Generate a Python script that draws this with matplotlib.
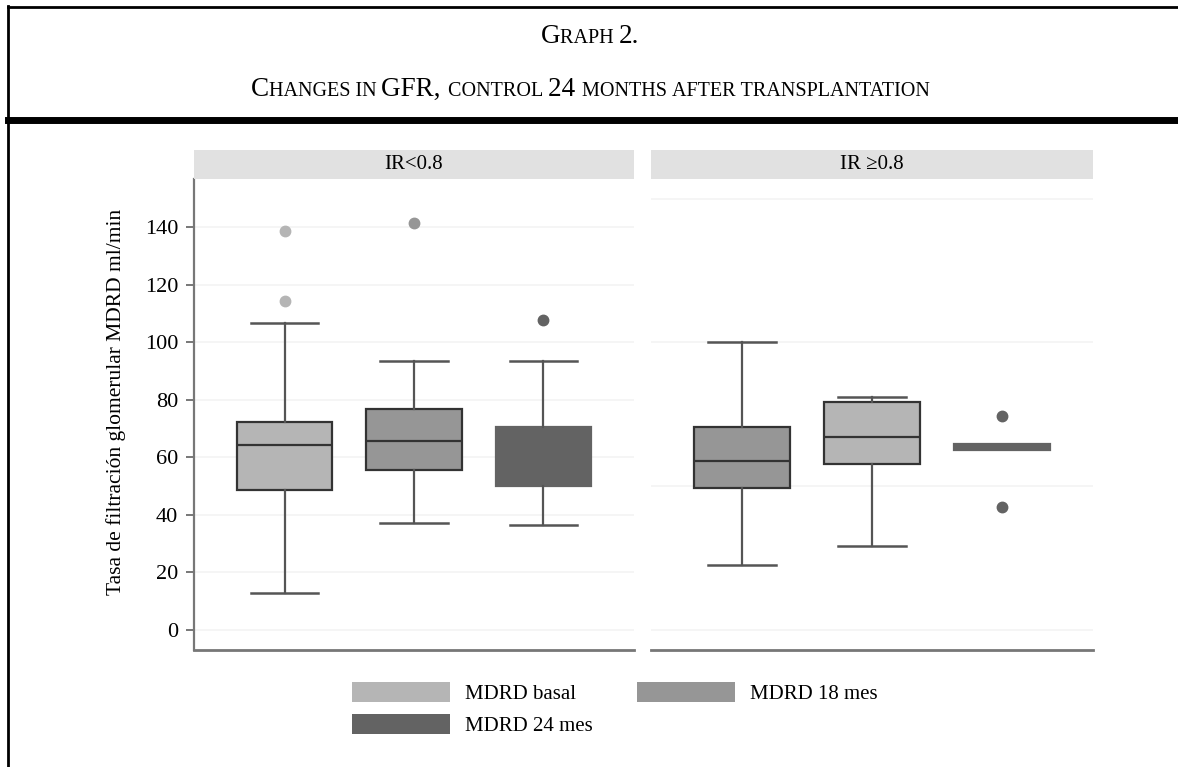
import numpy as np
import matplotlib as mpl
mpl.use("Agg")
import matplotlib.pyplot as plt
from matplotlib.patches import Patch
from matplotlib.lines import Line2D

# ---- data ----
panels = ['IR<0.8', 'IR \u22650.8']
series = ['MDRD basal', 'MDRD 18 mes', 'MDRD 24 mes']

# per panel, per box: q1, median, q3, whisker low, whisker high, outliers
q1_left = [48.6, 55.6, 50.1]
med_left = [64.2, 65.7, 57.0]
q3_left = [72.2, 76.7, 70.7]
wlo_left = [12.7, 37.3, 36.5]
whi_left = [106.8, 93.6, 93.5]
out_left = [[138.7, 114.5], [141.4], [107.9]]

q1_right = [49.5, 57.7, 62.6]
med_right = [58.8, 67.0, 63.6]
q3_right = [70.7, 79.1, 64.8]
wlo_right = [22.7, 29.0, 62.6]
whi_right = [100.2, 81.1, 64.8]
out_right = [[], [], [74.5, 42.9]]

yticks_left = [0, 20, 40, 60, 80, 100, 120, 140]
grid_right = [0, 50, 100, 150]

c_light = '#b5b5b5'
c_mid = '#969696'
c_dark = '#636363'
fill_left = [c_light, c_mid, c_dark]
fill_right = [c_mid, c_light, c_dark]

serif = ['Liberation Serif', 'DejaVu Serif']
plt.rcParams['font.family'] = serif

W, H = 1178, 767
fig = plt.figure(figsize=(W / 100, H / 100), dpi=100)


def fx(px):
    return px / W


def fy(py):
    return 1 - py / H


def make_stats(q1, med, q3, lo, hi, out):
    stats = []
    for i in range(len(q1)):
        stats.append(dict(q1=q1[i], med=med[i], q3=q3[i], whislo=lo[i],
                          whishi=hi[i], fliers=np.array(out[i])))
    return stats


def draw_panel(ax, stats, fills, edge_cols):
    bp = ax.bxp(stats, positions=[1, 2, 3], widths=0.74, capwidths=0.52,
                patch_artist=True, showfliers=True, manage_ticks=False)
    for i, box in enumerate(bp['boxes']):
        box.set_facecolor(fills[i])
        box.set_edgecolor(edge_cols[i])
        box.set_linewidth(1.6)
    for i, m in enumerate(bp['medians']):
        m.set_color(edge_cols[i])
        m.set_linewidth(1.6)
    for w in bp['whiskers']:
        w.set_color('#555555')
        w.set_linewidth(1.6)
    for j, c in enumerate(bp['caps']):
        c.set_color('#555555')
        c.set_linewidth(1.8)
        st = stats[j // 2]
        if st['whislo'] == st['q1'] and st['whishi'] == st['q3']:
            c.set_visible(False)
    for i, f in enumerate(bp['fliers']):
        f.set_marker('o')
        f.set_markersize(7.5)
        f.set_markerfacecolor(fills[i])
        f.set_markeredgecolor(fills[i])
    ax.set_xlim(0.3, 3.7)
    ax.set_ylim(-7, 156.8)
    ax.set_xticks([])
    for s in ['top', 'right']:
        ax.spines[s].set_visible(False)
    ax.spines['bottom'].set_color('#777777')
    ax.spines['bottom'].set_linewidth(2)
    ax.set_axisbelow(True)


ax_bottom, ax_top = 650, 179
ax1 = fig.add_axes([fx(194), fy(ax_bottom), fx(634 - 194), (ax_bottom - ax_top) / H])
ax2 = fig.add_axes([fx(651), fy(ax_bottom), fx(1093 - 651), (ax_bottom - ax_top) / H])

draw_panel(ax1, make_stats(q1_left, med_left, q3_left, wlo_left, whi_left, out_left),
           fill_left, ['#333333', '#333333', c_dark])
draw_panel(ax2, make_stats(q1_right, med_right, q3_right, wlo_right, whi_right, out_right),
           fill_right, ['#333333', '#333333', c_dark])

ax1.set_yticks(yticks_left)
ax1.tick_params(axis='y', length=6, width=1.4, color='#777777', labelsize=16, pad=5.5)
ax1.spines['left'].set_color('#777777')
ax1.spines['left'].set_linewidth(1.6)
ax1.yaxis.grid(True, color='#f3f3f3', linewidth=1.2)
ax1.set_ylabel('Tasa de filtración glomerular MDRD ml/min', fontsize=15.5)
ax1.yaxis.set_label_coords(-0.154, 0.527)

ax2.spines['left'].set_visible(False)
ax2.set_yticks(grid_right)
ax2.tick_params(axis='y', length=0, labelleft=False)
ax2.yaxis.grid(True, color='#f3f3f3', linewidth=1.2)

# facet strips
for x0, x1, lab in [(194, 634, panels[0]), (651, 1093, panels[1])]:
    sa = fig.add_axes([fx(x0), fy(179), fx(x1 - x0), 29 / H])
    sa.set_facecolor('#e1e1e1')
    sa.set_xticks([]); sa.set_yticks([])
    for s in sa.spines.values():
        s.set_visible(False)
    sa.text(0.5, 0.5, lab, ha='center', va='center', fontsize=15,
            transform=sa.transAxes, family=serif)

# legend
handles = [Patch(facecolor=c_light, edgecolor='none'),
           Patch(facecolor=c_dark, edgecolor='none'),
           Patch(facecolor=c_mid, edgecolor='none')]
labels = [series[0], series[2], series[1]]
fig.legend(handles, labels, ncol=2, loc='upper left',
           bbox_to_anchor=(fx(352), fy(682)), frameon=False, fontsize=15,
           handlelength=4.69, handleheight=1.09, handletextpad=0.72,
           columnspacing=2.15, labelspacing=0.5, borderpad=0, borderaxespad=0)

# header frame lines
fig.add_artist(Line2D([fx(8), 1], [fy(7), fy(7)], color='black', lw=2))
fig.add_artist(Line2D([fx(8), 1], [fy(120), fy(120)], color='black', lw=5))
fig.add_artist(Line2D([fx(8), fx(8)], [fy(6), 0], color='black', lw=2))

# small-caps header text, built piece by piece
renderer = fig.canvas.get_renderer()


def small_caps(cx, base_y, text, big, small):
    runs = []
    for ch in text:
        is_small = ch.islower() or (ch == ' ' and runs and runs[-1][1])
        if runs and runs[-1][1] == is_small:
            runs[-1][0] += ch
        else:
            runs.append([ch, is_small])
    pieces = []
    total = 0
    for s, is_small in runs:
        size = small if is_small else big
        s = s.upper()
        t = fig.text(0, fy(base_y), s.replace(' ', '\u00a0'), fontsize=size,
                     ha='left', va='baseline', family=serif)
        w = t.get_window_extent(renderer).width
        pieces.append((t, w))
        total += w
    x = cx - total / 2
    for t, w in pieces:
        t.set_x(fx(x))
        x += w


small_caps(590, 43, 'Graph 2.', 19.5, 14.5)
small_caps(590, 96, 'Changes in GFR, control 24 months after transplantation', 19.5, 14.5)

fig.savefig('out.png', dpi=100)
